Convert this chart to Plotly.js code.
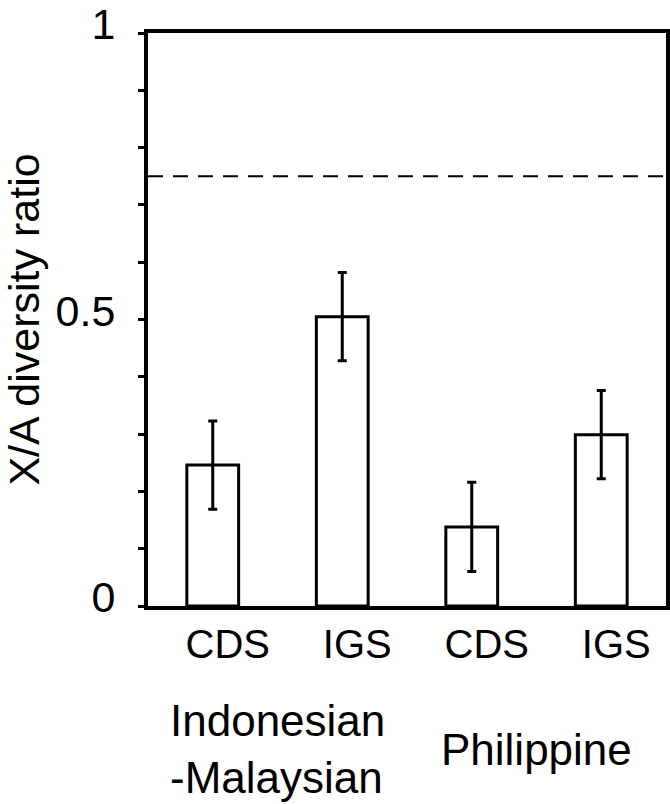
<!DOCTYPE html>
<html>
<head>
<meta charset="utf-8">
<script src="https://cdn.plot.ly/plotly-3.0.1.min.js"></script>
<style>html,body{margin:0;padding:0;background:#fff;}#chart{width:670px;height:804px;}</style>
</head>
<body>
<div id="chart"></div>
<script>
// ---- data ----
const categories = ['CDS', 'IGS', 'CDS', 'IGS'];
const ratios = [0.246, 0.505, 0.138, 0.299];
const errors = [0.077, 0.077, 0.078, 0.077];
const groups = ['Indonesian<br>-Malaysian', 'Philippine'];
const expectedRatio = 0.75;
const yTickVals = [0, 0.1, 0.2, 0.3, 0.4, 0.5, 0.6, 0.7, 0.8, 0.9, 1];
const yTickText = ['0', '', '', '', '', '0.5', '', '', '', '', '1'];

const xPos = categories.map((c, i) => i);
const FONT = 'Liberation Sans, Arial, sans-serif';

const trace = {
  type: 'bar',
  x: xPos,
  y: ratios,
  width: 0.4,
  marker: {color: '#ffffff', line: {color: '#000000', width: 3}},
  error_y: {type: 'data', array: errors, visible: true, color: '#000000', thickness: 3, width: 4.5},
  hoverinfo: 'y'
};

const groupAnnotations = groups.map((g, k) => ({
  x: 2 * k + 0.5, xref: 'x',
  y: -0.25, yref: 'paper',
  text: g, showarrow: false,
  align: 'left', xanchor: 'center', yanchor: 'middle',
  font: {family: FONT, size: 44, color: '#000'}
}));

const layout = {
  width: 670, height: 804,
  margin: {l: 148, r: 4, t: 33, b: 198},
  paper_bgcolor: '#fff', plot_bgcolor: '#fff',
  showlegend: false,
  font: {family: FONT, size: 40, color: '#000'},
  xaxis: {
    range: [-0.5, 3.5],
    tickvals: xPos, ticktext: categories,
    ticks: '', showgrid: false, zeroline: false,
    showline: true, mirror: true, linecolor: '#000', linewidth: 4,
    tickfont: {family: FONT, size: 40, color: '#000'},
    ticklabelshift: 15, ticklabelstandoff: 0
  },
  yaxis: {
    range: [0, 1],
    tickvals: yTickVals, ticktext: yTickText,
    ticks: 'outside', ticklen: 6, tickwidth: 3, tickcolor: '#000',
    showgrid: false, zeroline: false,
    showline: true, mirror: true, linecolor: '#000', linewidth: 4,
    tickfont: {family: FONT, size: 43, color: '#000'},
    ticklabelshift: -9, ticklabelstandoff: 14, ticklabeloverflow: 'allow',
    title: {text: 'X/A diversity ratio', font: {family: FONT, size: 43, color: '#000'}, standoff: 18}
  },
  shapes: [{
    type: 'line', xref: 'paper', x0: 0, x1: 1, yref: 'y', y0: expectedRatio, y1: expectedRatio,
    line: {color: '#000', width: 2, dash: '15px,10px'}
  }],
  annotations: groupAnnotations
};

Plotly.newPlot('chart', [trace], layout, {displayModeBar: false, staticPlot: true});
</script>
</body>
</html>
